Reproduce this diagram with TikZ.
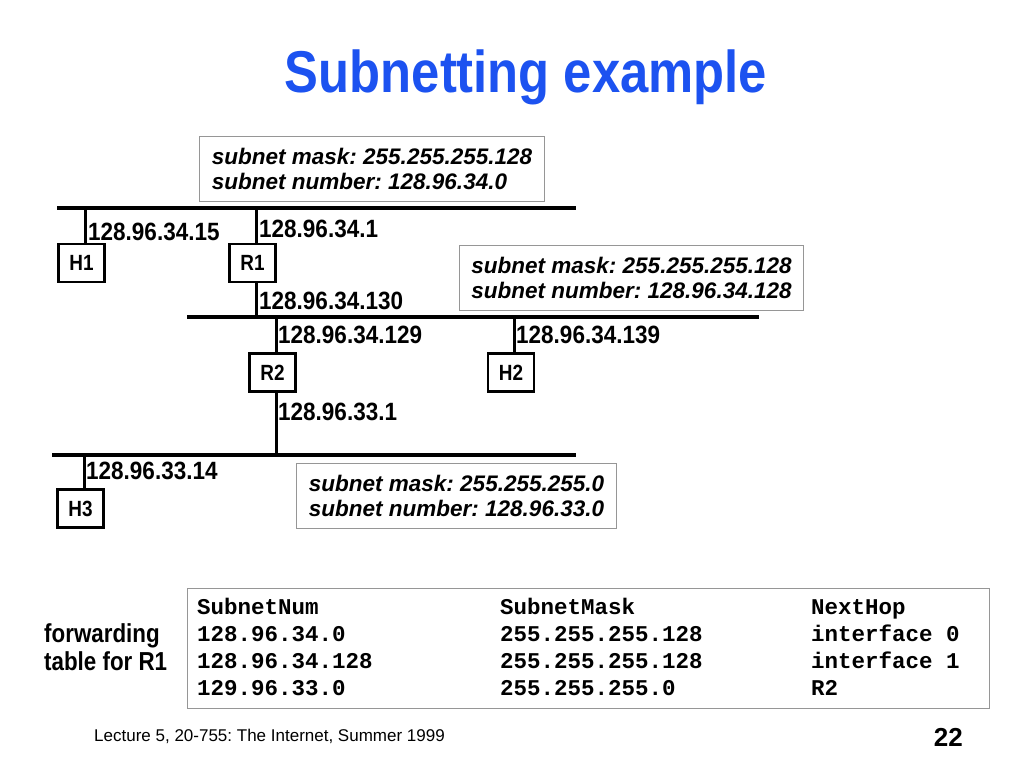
\documentclass[tikz,border=0pt]{standalone}
\usepackage{fontspec}
\setmainfont{Liberation Sans}
\setmonofont{Liberation Mono}
\newfontfamily\narrowsf[FakeStretch=0.86]{Liberation Sans}
\newfontfamily\addrsf[FakeStretch=0.9]{Liberation Sans}
\definecolor{titleblue}{RGB}{28,82,240}
\definecolor{framegray}{RGB}{150,150,150}
\frenchspacing

\begin{document}
\begin{tikzpicture}[x=1pt,y=-1pt,
  lan/.style={line width=3.2pt},
  stub/.style={line width=3pt},
  host/.style={draw,line width=2.6pt,minimum width=46pt,minimum height=38pt,inner sep=0pt,
    font=\narrowsf\bfseries\fontsize{22}{26}\selectfont},
  addr/.style={anchor=base west,inner sep=0pt,font=\addrsf\bfseries\fontsize{25}{28}\selectfont},
  maskbox/.style={draw=framegray,line width=1.1pt,anchor=north west,minimum height=65pt,
    align=left,inner sep=0pt,font=\bfseries\itshape\fontsize{22.5}{25}\selectfont},
  cell/.style={anchor=base west,inner sep=0pt,font=\ttfamily\bfseries\fontsize{22.5}{27}\selectfont}]
\fill[white] (0,0) rectangle (1024,768);
\useasboundingbox (0,0) rectangle (1024,768);

\node[anchor=base,inner sep=0pt,text=titleblue,
  font=\narrowsf\bfseries\fontsize{59}{70}\selectfont] (title) at (526,92) {Subnetting example};

% the three LANs
\coordinate (lanA-w) at (57,208);  \coordinate (lanA-e) at (576,208);
\coordinate (lanB-w) at (187,317); \coordinate (lanB-e) at (759,317);
\coordinate (lanC-w) at (52,455);  \coordinate (lanC-e) at (576,455);
\draw[lan] (lanA-w) -- (lanA-e);
\draw[lan] (lanB-w) -- (lanB-e);
\draw[lan] (lanC-w) -- (lanC-e);

% hosts and routers
\node[host] (H1) at (81.5,263) {H1};
\node[host] (R1) at (252.5,263) {R1};
\node[host] (R2) at (272.5,372.5) {R2};
\node[host] (H2) at (511,372.5) {H2};
\node[host] (H3) at (80.5,508.5) {H3};

\coordinate (tapH1) at (85,208);
\coordinate (tapR1) at (256,208);
\coordinate (tapR2) at (276,317);
\coordinate (tapH2) at (514,317);
\coordinate (tapH3) at (84,455);
\foreach \t/\n in {tapH1/H1, tapR1/R1, tapR2/R2, tapH2/H2, tapH3/H3}
  \draw[stub] (\t) -- (\t |- \n.north);
\draw[stub] (tapR1 |- R1.south) -- (tapR1 |- lanB-w);
\draw[stub] (tapR2 |- R2.south) -- (tapR2 |- lanC-w);

% interface addresses
\node[addr] (ipH1) at (88,240) {128.96.34.15};
\node[addr] (ipR1a) at (259,237) {128.96.34.1};
\node[addr] (ipR1b) at (259,309) {128.96.34.130};
\node[addr] (ipR2a) at (278,343) {128.96.34.129};
\node[addr] (ipH2) at (516,343) {128.96.34.139};
\node[addr] (ipR2b) at (278,420) {128.96.33.1};
\node[addr] (ipH3) at (86,479) {128.96.33.14};

% subnet boxes
\node[maskbox,minimum width=345pt] (maskA) at (199,136)
  {subnet mask: 255.255.255.128\\subnet number: 128.96.34.0};
\node[maskbox,minimum width=344pt] (maskB) at (459,245)
  {subnet mask: 255.255.255.128\\subnet number: 128.96.34.128};
\node[maskbox,minimum width=320pt] (maskC) at (296,463)
  {subnet mask: 255.255.255.0\\subnet number: 128.96.33.0};

% forwarding table
\node[anchor=west,align=left,inner sep=0pt,
  font=\narrowsf\bfseries\fontsize{26}{28}\selectfont] (fwdlabel) at (44,647) {forwarding\\table for R1};
\node[draw=framegray,line width=1.1pt,anchor=north west,minimum width=802pt,
  minimum height=120pt,inner sep=0pt] (fwd) at (187,588) {};
\foreach \num/\mask/\hop [count=\i from 0] in {SubnetNum/SubnetMask/NextHop,
    128.96.34.0/255.255.255.128/interface 0, 128.96.34.128/255.255.255.128/interface 1,
    129.96.33.0/255.255.255.0/R2} {
  \node[cell] (num\i) at (197,{614+27*\i}) {\num};
  \node[cell] (mask\i) at (500,{614+27*\i}) {\mask};
  \node[cell] (hop\i) at (811,{614+27*\i}) {\hop};
}

\node[anchor=base west,inner sep=0pt,font=\fontsize{17}{20}\selectfont] (footer) at (94,741)
  {Lecture 5, 20-755: The Internet, Summer 1999};
\node[anchor=base east,inner sep=0pt,font=\bfseries\fontsize{26}{30}\selectfont] (pageno) at (963,746) {22};
\end{tikzpicture}
\end{document}
